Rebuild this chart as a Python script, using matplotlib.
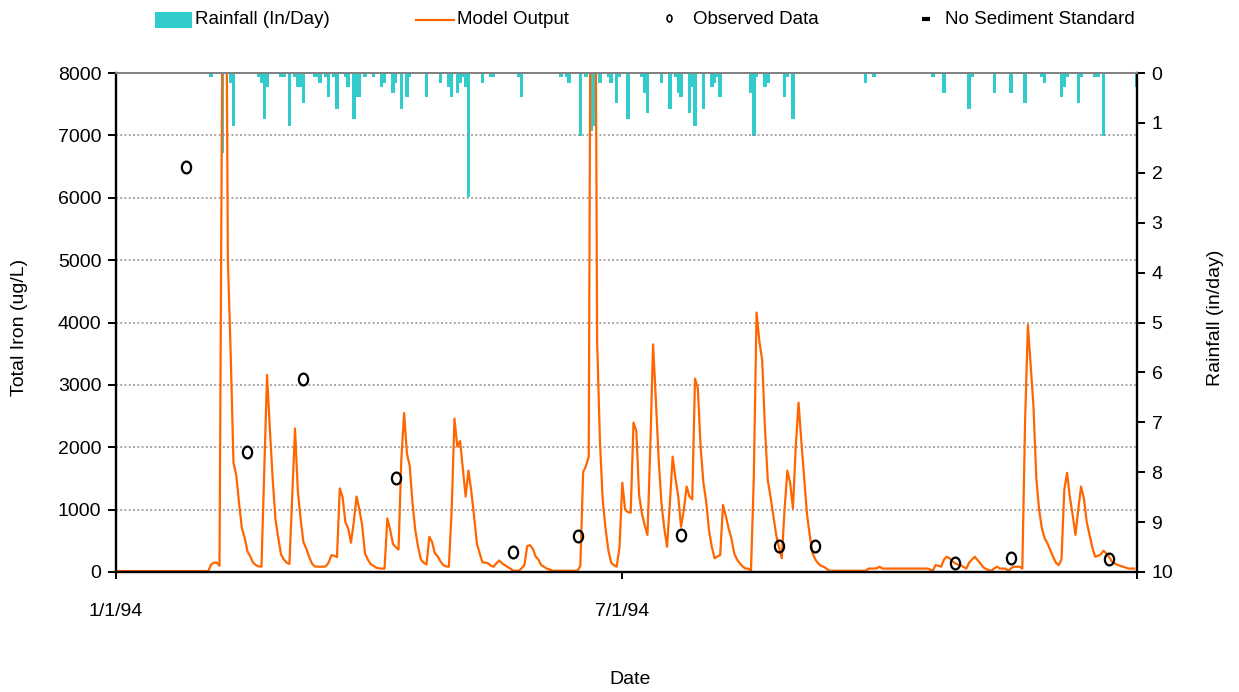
import matplotlib
matplotlib.use("Agg")
import matplotlib.pyplot as plt
from matplotlib.patches import Rectangle
from matplotlib.lines import Line2D
from matplotlib.path import Path
from matplotlib.transforms import Affine2D
import pandas as pd

plt.rcParams['font.family'] = ['Liberation Sans', 'DejaVu Sans']

# ---------------- data ----------------
start_date = "1994-01-01"
end_date = "1995-01-01"

# Daily model output, Total Iron (ug/L), day 0 = 1/1/94
model_iron = [
    15, 15, 15, 15, 15, 15, 15, 15, 15, 15,
    15, 15, 15, 15, 15, 15, 15, 15, 15, 15,
    15, 15, 15, 15, 15, 15, 15, 15, 15, 15,
    15, 15, 15, 15, 120, 150, 150, 100, 8500, 13000,
    5000, 3500, 1750, 1550, 1100, 700, 550, 330, 250, 150,
    110, 90, 85, 1600, 3160, 2300, 1500, 850, 550, 280,
    200, 150, 130, 1200, 2300, 1300, 850, 480, 380, 250,
    140, 90, 85, 85, 85, 90, 150, 270, 260, 240,
    1340, 1200, 800, 700, 470, 800, 1210, 1000, 750, 300,
    200, 130, 100, 70, 60, 55, 55, 860, 680, 450,
    400, 360, 1800, 2550, 1900, 1700, 1100, 670, 400, 200,
    150, 120, 565, 480, 300, 250, 170, 110, 90, 85,
    1000, 2460, 2010, 2100, 1650, 1210, 1625, 1300, 900, 460,
    300, 155, 150, 140, 100, 85, 140, 185, 140, 110,
    80, 55, 20, 20, 20, 60, 110, 415, 430, 375,
    250, 200, 110, 85, 55, 40, 20, 20, 20, 20,
    20, 20, 20, 20, 20, 20, 100, 1600, 1700, 1850,
    14000, 14000, 3700, 2100, 1150, 700, 350, 150, 110, 85,
    400, 1430, 1000, 960, 950, 2395, 2265, 1235, 940, 750,
    595, 2000, 3650, 2760, 1800, 1100, 700, 405, 1100, 1850,
    1500, 1210, 725, 1000, 1370, 1210, 1165, 3100, 2945, 2000,
    1430, 1125, 670, 400, 220, 250, 270, 1075, 900, 700,
    540, 300, 200, 140, 90, 55, 55, 20, 1500, 4160,
    3700, 3400, 2300, 1475, 1200, 900, 600, 400, 220, 1000,
    1625, 1430, 1020, 2000, 2715, 2100, 1530, 940, 595, 300,
    200, 140, 100, 85, 55, 20, 20, 20, 20, 20,
    20, 20, 20, 20, 20, 20, 20, 20, 20, 55,
    55, 55, 60, 85, 55, 55, 55, 55, 55, 55,
    55, 55, 55, 55, 55, 55, 55, 55, 55, 55,
    55, 40, 20, 110, 100, 85, 200, 245, 220, 170,
    140, 120, 110, 80, 55, 150, 200, 245, 190, 140,
    75, 50, 30, 20, 60, 85, 55, 55, 55, 20,
    60, 85, 85, 85, 55, 2435, 3960, 3300, 2650, 1500,
    995, 700, 540, 460, 350, 245, 150, 110, 200, 1315,
    1590, 1200, 915, 595, 1000, 1370, 1180, 810, 600, 400,
    245, 260, 280, 340, 300, 245, 170, 140, 115, 100,
    85, 70, 55, 55, 55,
]

# Observed data
obs_dates = ["1994-01-26", "1994-02-17", "1994-03-09", "1994-04-11",
             "1994-05-23", "1994-06-15", "1994-07-22", "1994-08-26",
             "1994-09-08", "1994-10-28", "1994-11-17", "1994-12-22"]
obs_iron = [6500, 1930, 3100, 1500, 325, 577, 593, 417, 417, 150, 230, 203]

# Rainfall (in/day): day offset from 1/1/94 and amount
rain_day = [34, 38, 41, 42, 51, 52, 53, 54, 59, 60, 62, 64, 65, 66, 67, 71, 72, 73,
            75, 76, 78, 79, 82, 83, 85, 86, 87, 89, 92, 95, 96, 99, 100, 102, 104,
            105, 111, 116, 119, 120, 122, 123, 124, 125, 126, 131, 134, 135, 144,
            145, 159, 161, 162, 166, 168, 170, 171, 173, 176, 177, 179, 180, 183,
            188, 189, 190, 195, 198, 200, 201, 202, 205, 206, 207, 210, 213, 214,
            215, 216, 227, 228, 229, 232, 233, 239, 240, 242, 268, 271, 292, 296,
            305, 306, 314, 320, 325, 331, 332, 338, 339, 340, 344, 345, 350, 351,
            353, 365]
rain_in = [0.08, 1.6, 0.2, 1.07, 0.08, 0.2, 0.93, 0.28, 0.08, 0.08, 1.07, 0.08, 0.28,
           0.28, 0.6, 0.08, 0.08, 0.2, 0.08, 0.48, 0.08, 0.73, 0.08, 0.28, 0.93, 0.48,
           0.48, 0.08, 0.08, 0.28, 0.2, 0.4, 0.2, 0.73, 0.48, 0.08, 0.48, 0.2, 0.28,
           0.48, 0.4, 0.2, 0.08, 0.28, 2.48, 0.2, 0.08, 0.08, 0.08, 0.48, 0.08, 0.08,
           0.2, 1.27, 0.08, 1.17, 1.07, 0.2, 0.08, 0.2, 0.6, 0.08, 0.93, 0.08, 0.4,
           0.8, 0.2, 0.73, 0.08, 0.4, 0.48, 0.8, 0.28, 1.07, 0.73, 0.28, 0.2, 0.08,
           0.48, 0.4, 1.27, 0.08, 0.28, 0.2, 0.48, 0.08, 0.93, 0.2, 0.08, 0.08, 0.4,
           0.73, 0.08, 0.4, 0.4, 0.6, 0.08, 0.2, 0.48, 0.28, 0.08, 0.6, 0.08, 0.08,
           0.08, 1.27, 0.28]

x_ticks = ["1994-01-01", "1994-07-01", "1995-01-01"]
x_tick_labels = ["1/1/94", "7/1/94", ""]
iron_ticks = [0, 1000, 2000, 3000, 4000, 5000, 6000, 7000, 8000]
rain_ticks = [0, 1, 2, 3, 4, 5, 6, 7, 8, 9, 10]

legend_labels = ["Rainfall (In/Day)", "Model Output", "Observed Data", "No Sediment Standard"]

# ---------------- styling ----------------
TEAL = "#33CCCC"
ORANGE = "#FF6600"
FS = 14
W, H = 1239, 692

t0 = pd.Timestamp(start_date)
model_dates = pd.date_range(start_date, periods=len(model_iron), freq="D")
rain_dates = [t0 + pd.Timedelta(days=d) for d in rain_day]
obs_dt = pd.to_datetime(obs_dates)

fig = plt.figure(figsize=(W / 100, H / 100), dpi=100)
ax = fig.add_axes([116 / W, 1 - 572 / H, (1137 - 116) / W, (572 - 73) / H])
ax2 = ax.twinx()
ax.set_zorder(ax2.get_zorder() + 1)
ax.patch.set_visible(False)

# rainfall bars (hanging from top)
ax2.bar(rain_dates, rain_in, width=1.25, color=TEAL, linewidth=0, align="center")
ax2.set_ylim(10, 0)
ax2.set_yticks(rain_ticks)
ax2.set_yticklabels([str(t) for t in rain_ticks])

# model output
ax.plot(model_dates, model_iron, color=ORANGE, lw=1.6, solid_joinstyle="round")

# observed points (tall open "o")
ell = Path.unit_circle().transformed(Affine2D().scale(0.78, 1.0))
ax.plot(obs_dt, obs_iron, linestyle="none", marker=ell, markersize=8.5,
        markerfacecolor="none", markeredgecolor="black", markeredgewidth=1.6)

ax.set_ylim(0, 8000)
ax.set_yticks(iron_ticks)
ax.set_yticklabels([str(t) for t in iron_ticks])
ax.set_xlim(pd.Timestamp(start_date), pd.Timestamp(end_date))
ax.set_xticks(pd.to_datetime(x_ticks))
ax.set_xticklabels(x_tick_labels)

for yv in iron_ticks[1:-1]:
    ax.axhline(yv, color="#8c8c8c", lw=1.1, linestyle=(0, (1.2, 1.6)), zorder=0.5)

# spines
for s in ["left", "bottom"]:
    ax.spines[s].set_color("black")
    ax.spines[s].set_linewidth(1.7)
ax.spines["top"].set_color("#808080")
ax.spines["top"].set_linewidth(1.4)
ax.spines["right"].set_visible(False)
for s in ["left", "top", "bottom"]:
    ax2.spines[s].set_visible(False)
ax2.spines["right"].set_color("black")
ax2.spines["right"].set_linewidth(1.7)

ax.tick_params(axis="y", direction="out", length=5.5, width=1.4, labelsize=FS, pad=5)
ax.tick_params(axis="x", direction="out", length=5, width=1.4, labelsize=FS, pad=17)
ax2.tick_params(axis="y", direction="out", length=5.5, width=1.4, labelsize=FS, pad=5)

ax.set_ylabel("Total Iron (ug/L)", fontsize=FS, va="center")
ax.yaxis.set_label_coords(-0.0945, 0.49)
ax2.set_ylabel("Rainfall (in/day)", fontsize=FS, rotation=90, va="center")
ax2.yaxis.set_label_coords(1.0765, 0.51)
ax.set_xlabel("Date", fontsize=FS, va="center")
ax.xaxis.set_label_coords(0.503, -0.216)

# legend (placed item by item, figure pixel coordinates)
ly = H - 20
LFS = 13.5
def fx(px):
    return px / W
def fy(py):
    return py / H

fig.patches.append(Rectangle((fx(155), fy(ly - 7.5)), 37 / W, 15 / H,
                             transform=fig.transFigure, facecolor=TEAL, edgecolor="none"))
fig.text(fx(195), fy(ly), legend_labels[0], fontsize=LFS, va="center", ha="left")

fig.lines.append(Line2D([fx(416), fx(454)], [fy(ly), fy(ly)], transform=fig.transFigure,
                        color=ORANGE, lw=1.6))
fig.text(fx(457), fy(ly), legend_labels[1], fontsize=LFS, va="center", ha="left")

ell_small = Path.unit_circle().transformed(Affine2D().scale(0.7, 1.0))
fig.lines.append(Line2D([fx(669)], [fy(ly + 2)], transform=fig.transFigure, linestyle="none",
                        marker=ell_small, markersize=5, markerfacecolor="none",
                        markeredgecolor="black", markeredgewidth=1.2))
fig.text(fx(693), fy(ly), legend_labels[2], fontsize=LFS, va="center", ha="left")

fig.lines.append(Line2D([fx(926)], [fy(ly + 1)], transform=fig.transFigure, linestyle="none",
                        marker="_", markersize=6, markeredgecolor="black", markeredgewidth=3))
fig.text(fx(945), fy(ly), legend_labels[3], fontsize=LFS, va="center", ha="left")

fig.savefig("out.png", dpi=100)
